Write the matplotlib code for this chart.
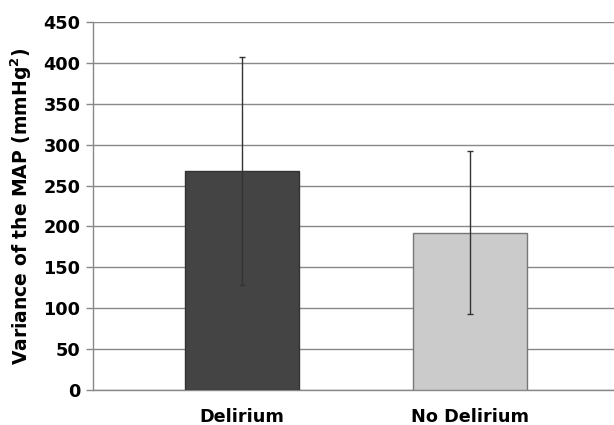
import matplotlib
matplotlib.use("Agg")
import matplotlib.pyplot as plt

categories = ["Delirium", "No Delirium"]
means = [268, 192]
err_low = [128, 93]
err_high = [407, 292]
yticks = [0, 50, 100, 150, 200, 250, 300, 350, 400, 450]

plt.rcParams['font.family'] = ['DejaVu Sans']

fig = plt.figure(figsize=(6.14, 4.25), dpi=100)
ax = fig.add_axes([93/614, 35/425, 1 - 93/614, 368/425])

x = list(range(len(categories)))
lower = [m - l for m, l in zip(means, err_low)]
upper = [h - m for m, h in zip(means, err_high)]
ax.bar(x, means, width=0.5, color=["#444444", "#cbcbcb"],
       edgecolor=["#333333", "#777777"], linewidth=1, zorder=3)
ax.errorbar(x, means, yerr=[lower, upper], fmt='none', ecolor="#333333",
            elinewidth=1, capsize=2.5, capthick=1, zorder=4)

ax.set_xlim(-0.654, 1.632)
ax.set_ylim(0, 450)
ax.set_yticks(yticks)
ax.set_yticklabels([str(t) for t in yticks], fontsize=12.7, fontweight='bold')
ax.set_xticks(x)
ax.set_xticklabels(categories, fontsize=12.7, fontweight='bold')
ax.tick_params(axis='x', length=0, pad=13)
ax.tick_params(axis='y', length=5, width=1, color="#888888", pad=4)
ax.yaxis.grid(True, color="#888888", linewidth=1, zorder=0)
ax.set_axisbelow(True)
for s in ["top", "right"]:
    ax.spines[s].set_visible(False)
for s in ["left", "bottom"]:
    ax.spines[s].set_color("#888888")
    ax.spines[s].set_linewidth(1)
ax.set_ylabel("Variance of the MAP (mmHg$^{\\mathbf{2}}$)", fontsize=13.5,
              fontweight='bold')
ax.yaxis.set_label_coords(-(93 - 34) / (614 - 93), 0.5)

fig.savefig("out.png", dpi=100)
